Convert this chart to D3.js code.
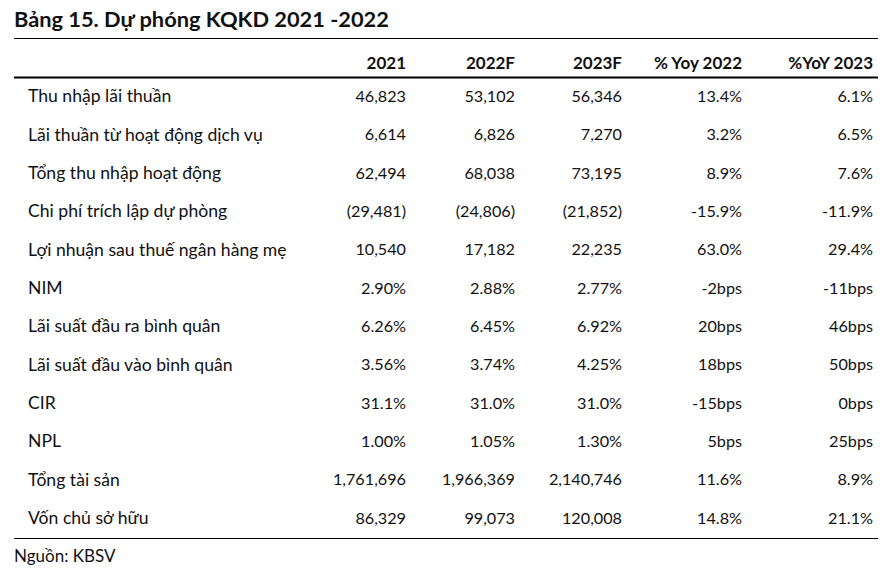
<!DOCTYPE html>
<html><head><meta charset="utf-8">
<script src="https://cdn.jsdelivr.net/npm/d3@7"></script>
<style>body{margin:0;background:#fff}svg{display:block}</style>
</head><body>
<script>
const title = "Bảng 15. Dự phóng KQKD 2021 -2022";
const headers = ["2021","2022F","2023F","% Yoy 2022","%YoY 2023"];
const labels = ["Thu nhập lãi thuần","Lãi thuần từ hoạt động dịch vụ","Tổng thu nhập hoạt động","Chi phí trích lập dự phòng","Lợi nhuận sau thuế ngân hàng mẹ","NIM","Lãi suất đầu ra bình quân","Lãi suất đầu vào bình quân","CIR","NPL","Tổng tài sản","Vốn chủ sở hữu"];
const v2021 = ["46,823","6,614","62,494","(29,481)","10,540","2.90%","6.26%","3.56%","31.1%","1.00%","1,761,696","86,329"];
const v2022 = ["53,102","6,826","68,038","(24,806)","17,182","2.88%","6.45%","3.74%","31.0%","1.05%","1,966,369","99,073"];
const v2023 = ["56,346","7,270","73,195","(21,852)","22,235","2.77%","6.92%","4.25%","31.0%","1.30%","2,140,746","120,008"];
const yoy2022 = ["13.4%","3.2%","8.9%","-15.9%","63.0%","-2bps","20bps","18bps","-15bps","5bps","11.6%","14.8%"];
const yoy2023 = ["6.1%","6.5%","7.6%","-11.9%","29.4%","-11bps","46bps","50bps","0bps","25bps","8.9%","21.1%"];
const source = "Nguồn: KBSV";

const W = 890, H = 568;
const font = "Lato, 'Open Sans', sans-serif";
const svg = d3.select("body").append("svg").attr("width", W).attr("height", H);

const colRight = d3.scaleOrdinal().domain(headers).range([406, 515, 622, 742, 873]);
const rowY = d3.scaleBand().domain(d3.range(labels.length)).range([77, 537]);

svg.append("text").attr("x", 14).attr("y", 27).attr("font-family", font)
  .attr("font-weight", 700).attr("font-size", 21.8).attr("fill", "#111").text(title);

svg.append("line").attr("x1", 14).attr("x2", 878).attr("y1", 38.5).attr("y2", 38.5).attr("stroke", "#000").attr("stroke-width", 1.2);
svg.append("line").attr("x1", 14).attr("x2", 878).attr("y1", 77.5).attr("y2", 77.5).attr("stroke", "#000").attr("stroke-width", 2.2);
svg.append("line").attr("x1", 14).attr("x2", 878).attr("y1", 538.5).attr("y2", 538.5).attr("stroke", "#000").attr("stroke-width", 1.2);

svg.selectAll("text.h").data(headers).join("text").attr("class","h")
  .attr("x", d => colRight(d)).attr("y", 63).attr("dy", "0.35em")
  .attr("text-anchor", "end").attr("font-family", font).attr("font-weight", 700)
  .attr("font-size", 17).attr("fill", "#111").text(d => d);

const cols = [v2021, v2022, v2023, yoy2022, yoy2023];
const rows = svg.selectAll("g.r").data(labels).join("g").attr("class","r")
  .attr("transform", (d,i) => `translate(0,${rowY(i) + rowY.bandwidth()/2})`);
rows.append("text").attr("x", 28).attr("dy","0.35em").attr("font-family", font)
  .attr("font-size", 17.6).attr("fill", "#111").text(d => d);
cols.forEach((arr, ci) => {
  rows.append("text").attr("x", colRight(headers[ci])).attr("dy","0.35em")
    .attr("text-anchor","end").attr("font-family", font)
    .attr("font-size", 16.2).attr("fill", "#111").text((d,i) => arr[i]);
});

svg.append("text").attr("x", 14).attr("y", 556).attr("dy","0.35em").attr("font-family", font)
  .attr("font-size", 17).attr("fill", "#111").text(source);
</script>
</body></html>
